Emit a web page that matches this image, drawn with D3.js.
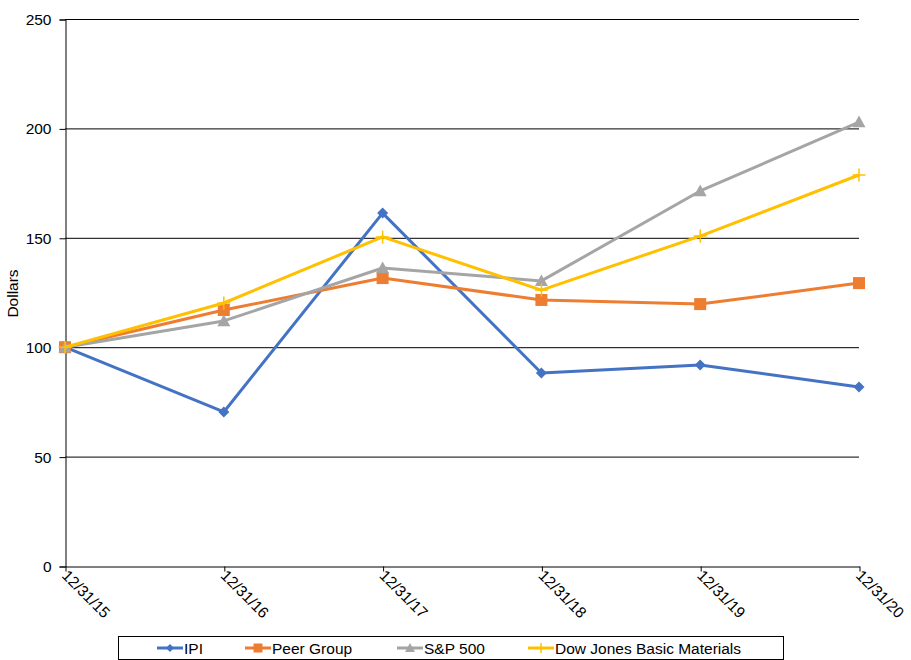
<!DOCTYPE html>
<html>
<head>
<meta charset="utf-8">
<script src="https://cdn.jsdelivr.net/npm/d3@7"></script>
<style>
  body { margin: 0; background: #fff; }
  svg { font-family: "Liberation Sans", Arial, sans-serif; }
</style>
</head>
<body>
<svg id="chart"></svg>
<script>
const dates = ['12/31/15', '12/31/16', '12/31/17', '12/31/18', '12/31/19', '12/31/20'];
const ipi = [100, 70.4, 161.3, 88.2, 91.9, 81.8];
const peerGroup = [100, 117, 131.6, 121.6, 119.7, 129.3];
const sp500 = [100, 112, 136.2, 130.3, 171.4, 202.9];
const dowJones = [100, 120.2, 150.4, 126.1, 150.8, 178.7];
const yTicks = [0, 50, 100, 150, 200, 250];

const series = [
  { name: 'IPI', values: ipi, color: '#4472C4', marker: 'diamond' },
  { name: 'Peer Group', values: peerGroup, color: '#ED7D31', marker: 'square' },
  { name: 'S&P 500', values: sp500, color: '#A5A5A5', marker: 'triangle' },
  { name: 'Dow Jones Basic Materials', values: dowJones, color: '#FFC000', marker: 'plus' }
];

const width = 911;
const height = 660;
const margin = { top: 19, right: 52, bottom: 94, left: 65 };
const fontSize = 15.5;

const svg = d3.select('#chart')
  .attr('width', width)
  .attr('height', height);

const x = d3.scalePoint()
  .domain(dates)
  .range([margin.left, width - margin.right]);

const y = d3.scaleLinear()
  .domain([0, 250])
  .range([height - margin.bottom, margin.top]);

// gridlines
svg.append('g')
  .selectAll('line')
  .data(yTicks.slice(1))
  .enter()
  .append('line')
  .attr('x1', margin.left)
  .attr('x2', width - margin.right)
  .attr('y1', d => y(d) + 0.5)
  .attr('y2', d => y(d) + 0.5)
  .attr('stroke', '#000')
  .attr('stroke-width', 1);

// y axis
const yAxis = svg.append('g')
  .attr('transform', `translate(${margin.left + 0.5}, 0.5)`)
  .call(d3.axisLeft(y).tickValues(yTicks).tickSize(6).tickPadding(8));
yAxis.select('.domain').attr('stroke', '#000');
yAxis.selectAll('line').attr('stroke', '#000');
yAxis.selectAll('text')
  .attr('font-size', fontSize)
  .attr('fill', '#000')
  .attr('font-family', '"Liberation Sans", Arial, sans-serif');

// x axis
const xAxis = svg.append('g')
  .attr('transform', `translate(0.5, ${y(0) + 0.5})`)
  .call(d3.axisBottom(x).tickSizeInner(5).tickSizeOuter(0));
xAxis.select('.domain').attr('stroke', '#000');
xAxis.selectAll('line').attr('stroke', '#000');
xAxis.selectAll('text')
  .attr('font-size', fontSize)
  .attr('fill', '#000')
  .attr('font-family', '"Liberation Sans", Arial, sans-serif')
  .attr('text-anchor', 'start')
  .attr('dy', null)
  .attr('y', 0)
  .attr('transform', 'translate(-5, 10) rotate(45)');

// y axis title
svg.append('text')
  .attr('transform', `translate(18, ${(margin.top + y(0)) / 2 + 1}) rotate(-90)`)
  .attr('text-anchor', 'middle')
  .attr('font-size', fontSize)
  .text('Dollars');

// markers
const drawMarker = (g, type, color, cx, cy, s) => {
  if (type === 'diamond') {
    g.append('path')
      .attr('d', `M${cx},${cy - s}L${cx + s},${cy}L${cx},${cy + s}L${cx - s},${cy}Z`)
      .attr('fill', color);
  } else if (type === 'square') {
    g.append('rect')
      .attr('x', cx - s).attr('y', cy - s)
      .attr('width', 2 * s).attr('height', 2 * s)
      .attr('fill', color);
  } else if (type === 'triangle') {
    g.append('path')
      .attr('d', `M${cx},${cy - s}L${cx + s},${cy + s * 0.8}L${cx - s},${cy + s * 0.8}Z`)
      .attr('fill', color);
  } else {
    g.append('path')
      .attr('d', `M${cx - s},${cy}L${cx + s},${cy}M${cx},${cy - s}L${cx},${cy + s}`)
      .attr('stroke', color)
      .attr('stroke-width', 1.5)
      .attr('fill', 'none');
  }
};

const line = d3.line()
  .x((d, i) => x(dates[i]))
  .y(d => y(d));

const sizes = { diamond: 5.5, square: 6, triangle: 6.5, plus: 6.5 };

series.forEach(s => {
  const g = svg.append('g');
  g.append('path')
    .datum(s.values)
    .attr('d', line)
    .attr('fill', 'none')
    .attr('stroke', s.color)
    .attr('stroke-width', 3)
    .attr('stroke-linejoin', 'round');
  s.values.forEach((v, i) => drawMarker(g, s.marker, s.color, x(dates[i]), y(v), sizes[s.marker]));
});

// legend
const legend = svg.append('g');
legend.append('rect')
  .attr('x', 118.5).attr('y', 636.5)
  .attr('width', 665).attr('height', 23)
  .attr('fill', '#fff')
  .attr('stroke', '#000');

const legendX = [157, 245, 397, 528];
series.forEach((s, i) => {
  const lx = legendX[i];
  const ly = 648;
  legend.append('line')
    .attr('x1', lx).attr('x2', lx + 26)
    .attr('y1', ly).attr('y2', ly)
    .attr('stroke', s.color)
    .attr('stroke-width', 3);
  drawMarker(legend, s.marker, s.color, lx + 13, ly, sizes[s.marker] - 1.5);
  legend.append('text')
    .attr('x', lx + 27)
    .attr('y', ly + 5.5)
    .attr('font-size', fontSize)
    .text(s.name);
});
</script>
</body>
</html>
